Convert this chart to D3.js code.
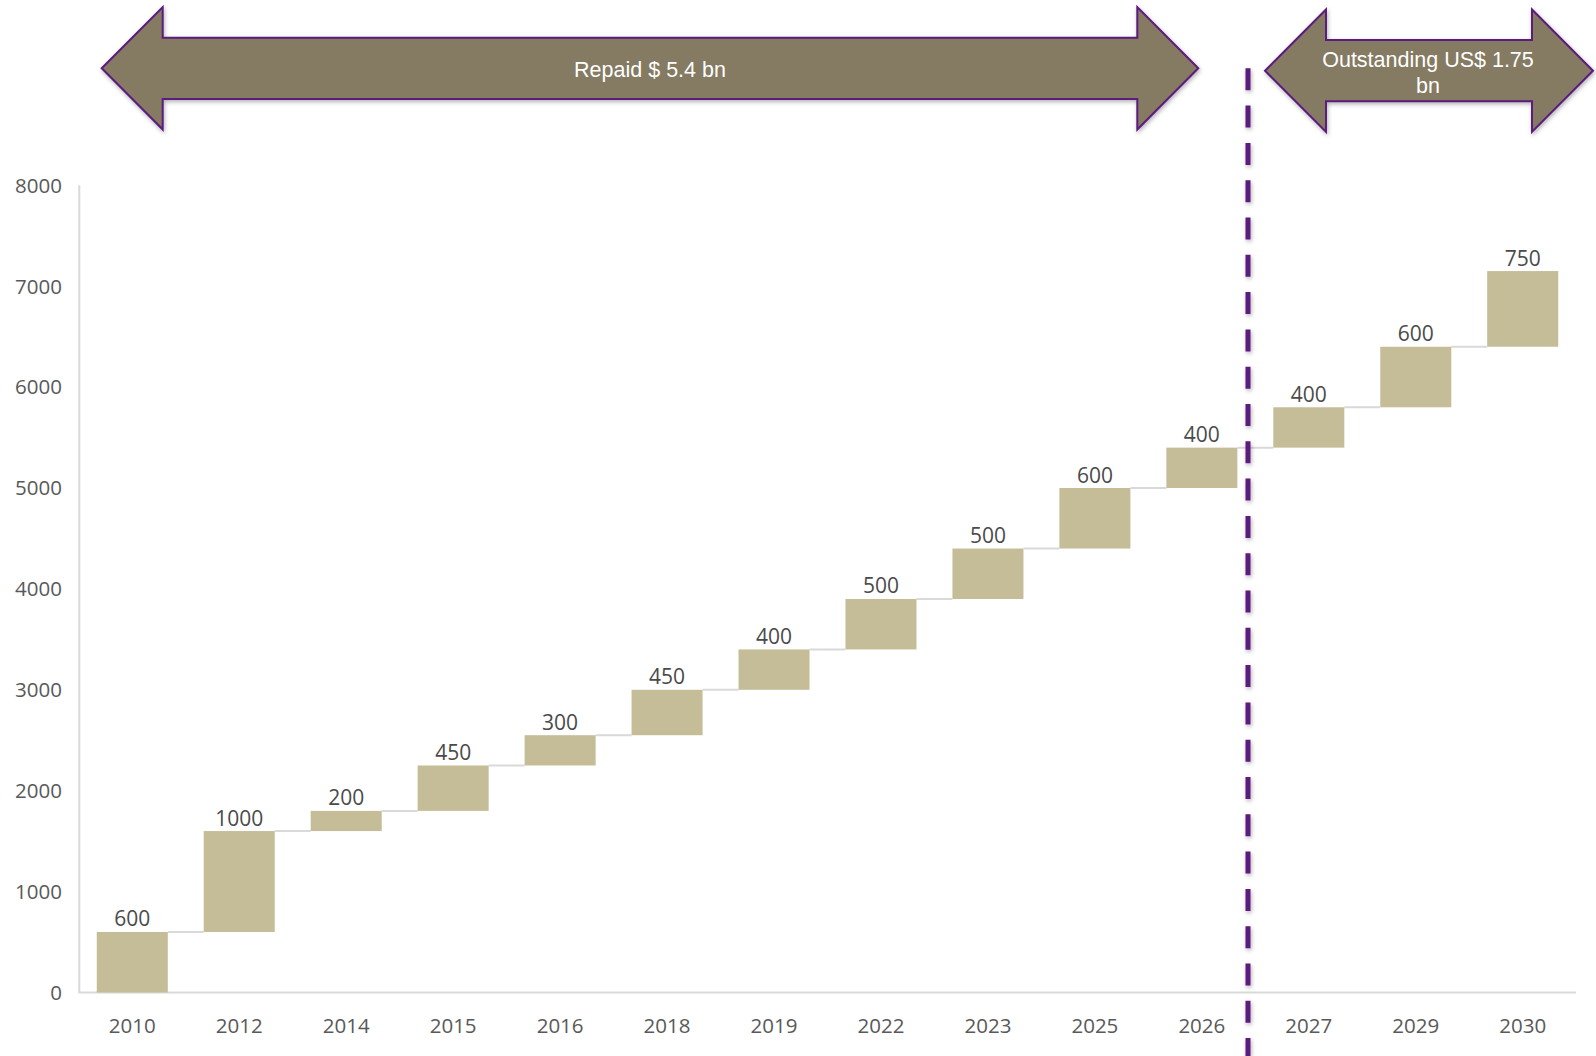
<!DOCTYPE html>
<html><head><meta charset="utf-8">
<script src="https://cdn.jsdelivr.net/npm/d3@7/dist/d3.min.js"></script>
<style>html,body{margin:0;padding:0;background:#fff;overflow:hidden}svg{display:block}</style>
</head><body>
<svg id="c" width="1596" height="1056" viewBox="0 0 1596 1056"></svg>
<script>
const categories = ["2010","2012","2014","2015","2016","2018","2019","2022","2023","2025","2026","2027","2029","2030"];
const values = [600,1000,200,450,300,450,400,500,500,600,400,400,600,750];
const yTicks = [0,1000,2000,3000,4000,5000,6000,7000,8000];
const arrowLabels = [["Repaid $ 5.4 bn"],["Outstanding US$ 1.75","bn"]];

const svg = d3.select("#c");
const x = d3.scaleBand().domain(categories).range([78.8,1576.2]).paddingInner(0.336).paddingOuter(0.168);
const y = d3.scaleLinear().domain([0,8000]).range([992.5,185.3]);

let cum = 0;
const data = categories.map((c,i)=>{const s=cum; cum+=values[i]; return {c, v:values[i], s, e:cum};});

const defs = svg.append("defs");
const f = defs.append("filter").attr("id","sh").attr("filterUnits","userSpaceOnUse")
  .attr("x",0).attr("y",0).attr("width",1596).attr("height",1056);
f.append("feDropShadow").attr("dx",1).attr("dy",2).attr("stdDeviation",2).attr("flood-color","#000").attr("flood-opacity",0.3);

// axes lines
svg.append("line").attr("x1",79.3).attr("x2",79.3).attr("y1",y(8000)).attr("y2",y(0)).attr("stroke","#d9d9d9").attr("stroke-width",2);
svg.append("line").attr("x1",78.3).attr("x2",1576).attr("y1",y(0)).attr("y2",y(0)).attr("stroke","#d9d9d9").attr("stroke-width",2);

const font = "'Open Sans', 'Noto Sans', sans-serif";
// y tick labels
svg.append("g").selectAll("text").data(yTicks).join("text")
  .attr("x",62).attr("y",d=>y(d)).attr("dy","0.36em").attr("text-anchor","end")
  .attr("font-family",font).attr("font-size",20.5).attr("fill","#595959").text(d=>d);

// x labels
svg.append("g").selectAll("text").data(categories).join("text")
  .attr("x",d=>x(d)+x.bandwidth()/2).attr("y",1025.5).attr("dy","0.36em").attr("text-anchor","middle")
  .attr("font-family",font).attr("font-size",20.5).attr("fill","#595959").text(d=>d);

// connectors
svg.append("g").selectAll("line").data(data.slice(0,-1)).join("line")
  .attr("x1",(d)=>x(d.c)+x.bandwidth()).attr("x2",(d,i)=>x(categories[i+1]))
  .attr("y1",d=>y(d.e)).attr("y2",d=>y(d.e)).attr("stroke","#d9d9d9").attr("stroke-width",2);

// bars
svg.append("g").selectAll("rect").data(data).join("rect")
  .attr("x",d=>x(d.c)).attr("width",x.bandwidth())
  .attr("y",d=>y(d.e)).attr("height",d=>y(d.s)-y(d.e)).attr("fill","#c4bd97");

// value labels
svg.append("g").selectAll("text").data(data).join("text")
  .attr("x",d=>x(d.c)+x.bandwidth()/2).attr("y",d=>y(d.e)-5.5).attr("text-anchor","middle")
  .attr("font-family",font).attr("font-size",21).attr("fill","#4a4a4a").text(d=>d.v);

// dashed line
svg.append("line").attr("x1",1248).attr("x2",1248).attr("y1",68.3).attr("y2",1056)
  .attr("stroke","#5b1a7e").attr("stroke-width",5).attr("stroke-dasharray","22,15.3").attr("filter","url(#sh)");

// arrows
function dblArrow(x0,x1,cy,headW,headH,bodyH){
  const ht=cy-headH/2, hb=cy+headH/2, bt=cy-bodyH/2, bb=cy+bodyH/2;
  return `M${x0},${cy} L${x0+headW},${ht} L${x0+headW},${bt} L${x1-headW},${bt} L${x1-headW},${ht} L${x1},${cy} L${x1-headW},${hb} L${x1-headW},${bb} L${x0+headW},${bb} L${x0+headW},${hb} Z`;
}
const arrows = [{x0:101.7,x1:1198.3,cy:68.3,tb:[76.5]},{x0:1265,x1:1593,cy:70.7,tb:[67,92.5]}];
svg.append("g").selectAll("path").data(arrows).join("path")
  .attr("d",d=>dblArrow(d.x0,d.x1,d.cy,61,122.5,61.3))
  .attr("fill","#857a62").attr("stroke","#5b1a7e").attr("stroke-width",2).attr("filter","url(#sh)");

const tg = svg.append("g");
arrows.forEach((a,i)=>{
  const lines = arrowLabels[i];
  const cx=(a.x0+a.x1)/2 - (i===1?1:0);
  lines.forEach((t,j)=>{
    tg.append("text").attr("x",cx).attr("y",a.tb[j])
      .attr("text-anchor","middle").attr("font-family","'Liberation Sans', Arial, sans-serif")
      .attr("font-size",21.5).attr("fill","#fff").text(t);
  });
});
</script>
</body></html>
